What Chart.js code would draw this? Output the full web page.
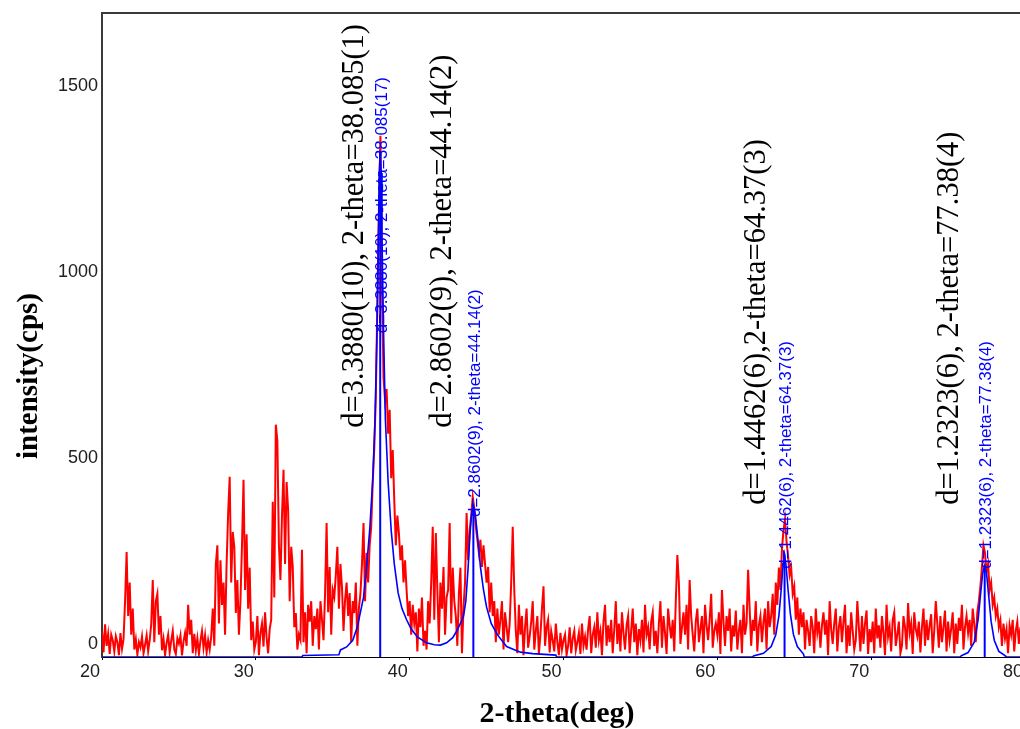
<!DOCTYPE html>
<html>
<head>
<meta charset="utf-8">
<script src="https://cdn.jsdelivr.net/npm/chart.js@4/dist/chart.umd.min.js"></script>
<style>
  html, body { margin: 0; padding: 0; background: #fff; overflow: hidden; }
  #wrap { width: 1030px; height: 729px; }
</style>
</head>
<body>
<div id="wrap"><canvas id="xrd" width="1030" height="729"></canvas></div>
<script>
// measured pattern, 2-theta 20..80 in 0.1 deg steps (one row per degree)
const thetaStart = 20;
const thetaStep = 0.1;
const counts = [
  70, 12, 88, 30, 62, 8, 60, 45, 15, 56,
  40, 5, 64, 22, 48, 150, 282, 110, 200, 60,
  130, 20, 48, 6, 40, 26, 55, 10, 33, 58,
  15, 45, 88, 207, 40, 150, 170, 60, 110, 18,
  48, 5, 38, 60, 12, 44, 70, 20, 8, 50,
  36, 58, 4, 42, 65, 30, 140, 60, 100, 10,
  62, 18, 50, 8, 44, 70, 25, 58, 12, 45,
  20, 55, 130, 30, 250, 300, 90, 260, 140, 200,
  60, 250, 387, 484, 200, 336, 296, 118, 207, 60,
  150, 300, 476, 180, 330, 130, 240, 45, 95, 20,
  40, 110, 5, 65, 90, 28, 120, 52, 10, 75,
  100, 417, 160, 624, 580, 300, 207, 380, 503, 250,
  470, 395, 150, 296, 242, 80, 118, 20, 60, 46,
  288, 40, 120, 10, 140, 95, 150, 30, 110, 75,
  130, 20, 150, 100, 45, 170, 360, 120, 242, 60,
  180, 161, 220, 296, 130, 250, 188, 70, 153, 200,
  110, 172, 40, 150, 118, 200, 30, 130, 170, 250,
  360, 150, 280, 200, 300, 350, 470, 560, 700, 950,
  1200, 1400, 1000, 750, 690, 720, 600, 664, 480, 556,
  420, 300, 380, 333, 260, 300, 200, 260, 180, 110,
  150, 60, 140, 90, 120, 15, 130, 80, 160, 30,
  70, 20, 150, 90, 200, 350, 100, 333, 180, 40,
  200, 130, 242, 60, 160, 180, 360, 90, 240, 150,
  110, 30, 170, 240, 10, 135, 200, 387, 260, 340,
  380, 430, 400, 350, 315, 280, 315, 242, 300, 250,
  200, 242, 120, 200, 110, 150, 40, 130, 60, 100,
  150, 20, 120, 80, 40, 90, 200, 350, 180, 70,
  10, 140, 60, 110, 5, 80, 130, 25, 55, 95,
  150, 20, 70, 110, 8, 60, 130, 190, 30, 80,
  100, 12, 70, 45, 15, 90, 40, 5, 65, 20,
  45, 60, 5, 30, 80, 10, 50, 70, 18, 40,
  65, 8, 90, 30, 55, 20, 75, 110, 10, 60,
  80, 25, 120, 45, 70, 5, 95, 140, 30, 85,
  40, 100, 10, 75, 150, 35, 90, 15, 120, 65,
  20, 85, 110, 10, 70, 130, 40, 90, 5, 75,
  45, 100, 12, 140, 60, 80, 20, 95, 120, 30,
  70, 10, 90, 150, 25, 110, 65, 8, 130, 85,
  50, 100, 15, 150, 274, 200, 35, 80, 120, 60,
  140, 20, 207, 110, 60, 15, 95, 130, 40, 75,
  110, 10, 140, 85, 45, 100, 170, 25, 70, 90,
  60, 120, 8, 180, 95, 30, 110, 70, 130, 15,
  85, 55, 125, 20, 70, 100, 10, 140, 60, 90,
  234, 130, 30, 100, 70, 150, 15, 85, 110, 40,
  95, 130, 20, 150, 80, 110, 170, 60, 200, 140,
  240, 180, 290, 340, 370, 310, 270, 220, 240, 170,
  190, 100, 160, 60, 130, 80, 120, 20, 100, 70,
  30, 110, 80, 10, 130, 65, 95, 25, 85, 120,
  60, 100, 5, 150, 75, 35, 90, 130, 15, 80,
  110, 40, 95, 140, 10, 85, 30, 120, 70, 20,
  45, 150, 80, 15, 110, 35, 90, 125, 8, 75,
  40, 95, 10, 130, 50, 85, 25, 110, 65, 5,
  140, 55, 80, 15, 100, 120, 30, 60, 95, 10,
  30, 110, 80, 20, 145, 65, 90, 8, 120, 75,
  55, 95, 12, 80, 130, 30, 100, 45, 85, 115,
  10, 70, 150, 90, 25, 110, 40, 80, 125, 15,
  95, 45, 75, 120, 10, 90, 35, 105, 70, 140,
  20, 80, 110, 65, 100, 30, 130, 90, 40, 120,
  150, 190, 240, 300, 280, 230, 250, 180, 200, 140,
  160, 110, 130, 80, 100, 30, 90, 50, 75, 10,
  85, 60, 100, 15, 70, 95, 35, 80, 5, 90,
  60
];

// fitted profile (blue)
const fitTheta = [20, 33.0, 33.05, 35.4, 35.5, 35.9, 36.3, 36.6, 37.0, 37.2,
  37.4, 37.6, 37.75, 37.88, 37.97, 38.03, 38.085, 38.14, 38.2, 38.3,
  38.42, 38.6, 38.8, 39.0, 39.25, 39.5, 39.8, 40.1, 40.5, 41.1,
  41.6, 42.0, 42.4, 42.8, 43.1, 43.35, 43.5, 43.65, 43.8, 43.92,
  44.03, 44.14, 44.26, 44.4, 44.6, 44.8, 45.0, 45.3, 45.7, 46.3,
  47.2, 48.0, 49.5, 49.55, 62.3, 62.35, 63.0, 63.5, 63.8, 64.0,
  64.15, 64.27, 64.37, 64.47, 64.6, 64.75, 64.95, 65.2, 65.6, 65.65,
  75.8, 75.85, 76.3, 76.7, 76.95, 77.1, 77.25, 77.38, 77.5, 77.65,
  77.8, 78.0, 78.3, 78.7, 78.75, 80];
const fitCounts = [0, 0, 4, 6, 19, 27, 45, 81, 160, 242,
  340, 476, 640, 880, 1130, 1300, 1360, 1300, 1130, 880,
  640, 470, 340, 250, 172, 130, 100, 75, 54, 38,
  33, 32, 38, 52, 73, 95, 110, 150, 240, 330,
  385, 405, 385, 330, 242, 180, 134, 90, 60, 28,
  13, 9, 5, 0, 0, 3, 10, 28, 60, 110,
  180, 245, 275, 245, 180, 115, 60, 28, 8, 0,
  0, 3, 12, 40, 100, 165, 225, 245, 225, 160,
  95, 45, 15, 4, 0, 0];

// peaks
const peakTheta = [38.085, 44.14, 64.37, 77.38];
const peakHeight = [1360, 405, 275, 245];
const peakText = [
  "d=3.3880(10), 2-theta=38.085(1)",
  "d=2.8602(9), 2-theta=44.14(2)",
  "d=1.4462(6),2-theta=64.37(3)",
  "d=1.2323(6), 2-theta=77.38(4)"
];
const fitText = [
  "d=3.3880(10), 2-theta=38.085(17)",
  "d=2.8602(9), 2-theta=44.14(2)",
  "d=1.4462(6), 2-theta=64.37(3)",
  "d=1.2323(6), 2-theta=77.38(4)"
];
const peakTextTheta = [36.45, 42.17, 62.59, 75.13];
const peakTextCounts = [616, 616, 409, 409];
const fitTextCounts = [870, 376, 237, 237];

const xTicks = [20, 30, 40, 50, 60, 70, 80];
const yTicks = [0, 500, 1000, 1500];

// Build datasets
const measured = counts.map((c, i) => ({ x: thetaStart + i * thetaStep, y: c }));
const fitted = fitTheta.map((t, i) => ({ x: t, y: fitCounts[i] }));

const datasets = [
  { data: measured, borderColor: "#ff0000", borderWidth: 2, pointRadius: 0, order: 3 },
  { data: fitted, borderColor: "#0000ff", borderWidth: 1.6, pointRadius: 0, order: 2 }
];
peakTheta.forEach((t, i) => {
  datasets.push({
    data: [{ x: t, y: 0 }, { x: t, y: peakHeight[i] }],
    borderColor: "#0000ff", borderWidth: 2, pointRadius: 0, order: 1
  });
});

// Text, frame and axis labels
const decor = {
  id: "decor",
  afterDraw(chart) {
    const ctx = chart.ctx;
    const xs = chart.scales.x;
    const ys = chart.scales.y;
    const area = chart.chartArea;
    ctx.save();

    // top frame line
    ctx.strokeStyle = "#3a3a3a";
    ctx.lineWidth = 2;
    ctx.beginPath();
    ctx.moveTo(area.left - 1, area.top);
    ctx.lineTo(area.right, area.top);
    ctx.stroke();

    // tick labels
    ctx.fillStyle = "#202020";
    ctx.font = '18px "Liberation Sans", Arial, sans-serif';
    ctx.textBaseline = "middle";
    ctx.textAlign = "right";
    xTicks.forEach(v => ctx.fillText(String(v), xs.getPixelForValue(v) - 2, area.bottom + 15));
    yTicks.forEach(v => ctx.fillText(String(v), area.left - 4, ys.getPixelForValue(v) - 13));

    // axis titles
    ctx.fillStyle = "#000";
    ctx.textAlign = "center";
    ctx.font = 'bold 30px "Liberation Serif", "Times New Roman", serif';
    ctx.fillText("2-theta(deg)", 557, 714);
    ctx.save();
    ctx.translate(30, 376);
    ctx.rotate(-Math.PI / 2);
    ctx.font = 'bold 29px "Liberation Serif", "Times New Roman", serif';
    ctx.fillText("intensity(cps)", 0, 0);
    ctx.restore();

    // peak annotations
    ctx.textAlign = "left";
    peakText.forEach((txt, i) => {
      ctx.save();
      ctx.translate(xs.getPixelForValue(peakTextTheta[i]), ys.getPixelForValue(peakTextCounts[i]));
      ctx.rotate(-Math.PI / 2);
      ctx.fillStyle = "#000";
      ctx.font = '30.5px "Liberation Serif", "Times New Roman", serif';
      ctx.fillText(txt, 0, 0);
      ctx.restore();
    });
    fitText.forEach((txt, i) => {
      ctx.save();
      ctx.translate(xs.getPixelForValue(peakTheta[i]) + 2, ys.getPixelForValue(fitTextCounts[i]));
      ctx.rotate(-Math.PI / 2);
      ctx.fillStyle = "#0000ff";
      ctx.font = '17px "Liberation Sans", Arial, sans-serif';
      ctx.fillText(txt, 0, 0);
      ctx.restore();
    });
    ctx.restore();
  }
};

new Chart(document.querySelector("#xrd"), {
  type: "line",
  data: { datasets },
  options: {
    responsive: false,
    animation: false,
    layout: { padding: { top: 13, right: 5, left: 0, bottom: 0 } },
    plugins: { legend: { display: false }, tooltip: { enabled: false } },
    elements: { line: { tension: 0 } },
    scales: {
      x: {
        type: "linear",
        min: 20,
        max: 80,
        ticks: { display: false, stepSize: 10 },
        grid: { display: true, drawOnChartArea: false, drawTicks: true, tickLength: 3, color: "#000" },
        border: { display: true, color: "#000", width: 1 },
        afterFit: s => { s.height = 72; }
      },
      y: {
        min: 0,
        max: 1730,
        ticks: { display: false, stepSize: 500 },
        grid: { display: false },
        border: { display: true, color: "#3a3a3a", width: 2 },
        afterFit: s => { s.width = 102; }
      }
    }
  },
  plugins: [decor]
});
</script>
</body>
</html>
